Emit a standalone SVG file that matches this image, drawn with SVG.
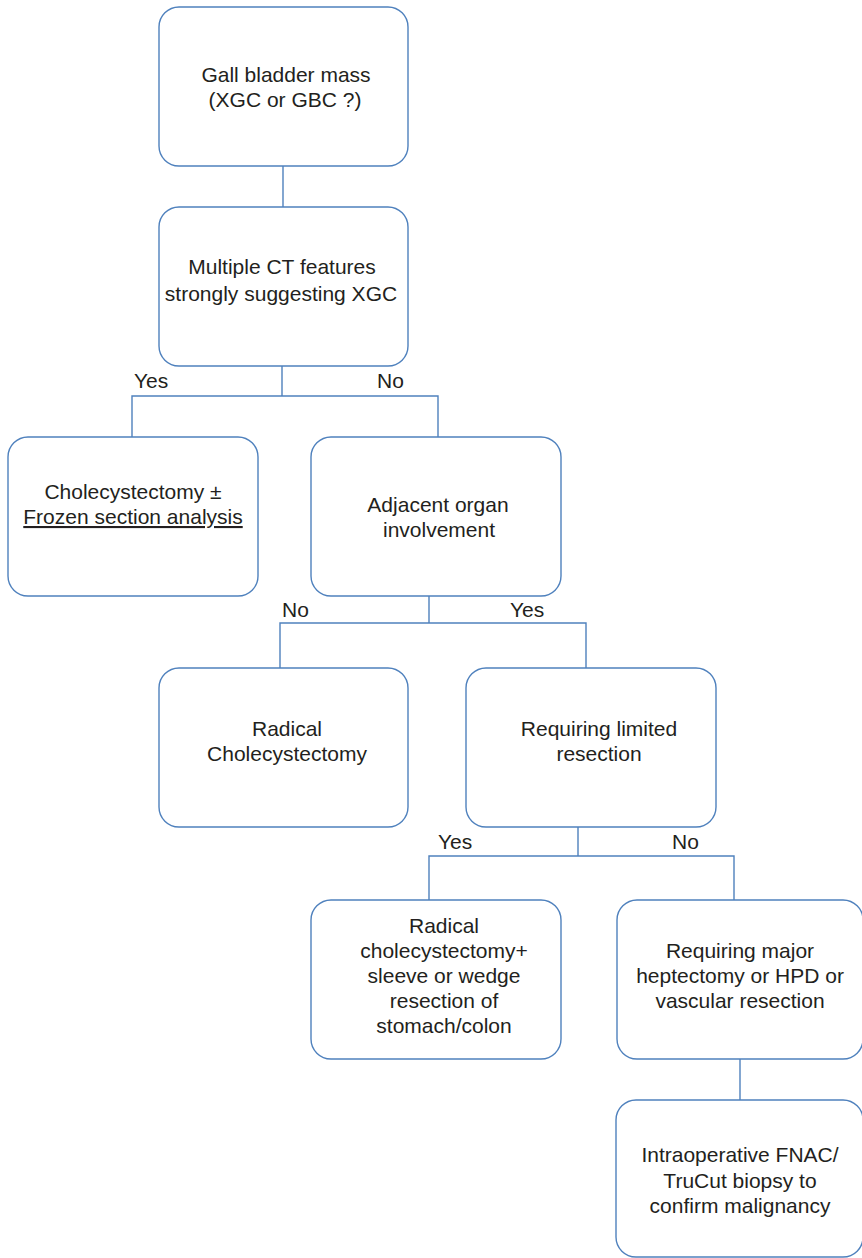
<svg xmlns="http://www.w3.org/2000/svg" width="862" height="1258" viewBox="0 0 862 1258">
<style>
.box{fill:#ffffff;stroke:#4f81bd;stroke-width:1.4}
.conn{fill:none;stroke:#4f81bd;stroke-width:1.4}
text{font-family:"Liberation Sans",Arial,sans-serif;font-size:21px;fill:#231f20}
.c{text-anchor:middle}
</style>
<rect width="862" height="1258" fill="#ffffff"/>
<g id="connectors">
<path class="conn" d="M283,166 V207"/>
<path class="conn" d="M282,366 V396 M132,437 V396 H438 V437"/>
<path class="conn" d="M429,596 V623 M280,668 V623 H586 V668"/>
<path class="conn" d="M578,827 V856 M429,900 V856 H734 V900"/>
<path class="conn" d="M740,1059 V1100"/>
</g>
<g id="labels">
<text x="134" y="388">Yes</text>
<text x="377" y="388">No</text>
<text x="282" y="617">No</text>
<text x="510" y="617">Yes</text>
<text x="438" y="849">Yes</text>
<text x="672" y="849">No</text>
</g>
<g id="n1">
<rect class="box" x="159" y="7" width="249" height="159" rx="20"/>
<text class="c" x="286" y="82">Gall bladder mass</text>
<text class="c" x="285" y="107">(XGC or GBC ?)</text>
</g>
<g id="n2">
<rect class="box" x="159" y="207" width="249" height="159" rx="20"/>
<text class="c" x="282" y="274">Multiple CT features</text>
<text class="c" x="281" y="301">strongly suggesting XGC</text>
</g>
<g id="n3">
<rect class="box" x="8" y="437" width="250" height="159" rx="20"/>
<text class="c" x="133" y="499">Cholecystectomy ±</text>
<text class="c" x="133" y="524" text-decoration="underline">Frozen section analysis</text>
</g>
<g id="n4">
<rect class="box" x="311" y="437" width="250" height="159" rx="20"/>
<text class="c" x="438" y="512">Adjacent organ</text>
<text class="c" x="439" y="537">involvement</text>
</g>
<g id="n5">
<rect class="box" x="159" y="668" width="249" height="159" rx="20"/>
<text class="c" x="287" y="736">Radical</text>
<text class="c" x="287" y="761">Cholecystectomy</text>
</g>
<g id="n6">
<rect class="box" x="466" y="668" width="250" height="159" rx="20"/>
<text class="c" x="599" y="736">Requiring limited</text>
<text class="c" x="599" y="761">resection</text>
</g>
<g id="n7">
<rect class="box" x="311" y="900" width="250" height="159" rx="20"/>
<text class="c" x="444" y="933">Radical</text>
<text class="c" x="444" y="958">cholecystectomy+</text>
<text class="c" x="444" y="983">sleeve or wedge</text>
<text class="c" x="444" y="1008">resection of</text>
<text class="c" x="444" y="1033">stomach/colon</text>
</g>
<g id="n8">
<rect class="box" x="617" y="900" width="246" height="159" rx="20"/>
<text class="c" x="740" y="958">Requiring major</text>
<text class="c" x="740" y="983">heptectomy or HPD or</text>
<text class="c" x="740" y="1008">vascular resection</text>
</g>
<g id="n9">
<rect class="box" x="616" y="1100" width="247" height="157" rx="20"/>
<text class="c" x="740" y="1162">Intraoperative FNAC/</text>
<text class="c" x="740" y="1188">TruCut biopsy to</text>
<text class="c" x="740" y="1213">confirm malignancy</text>
</g>
</svg>
